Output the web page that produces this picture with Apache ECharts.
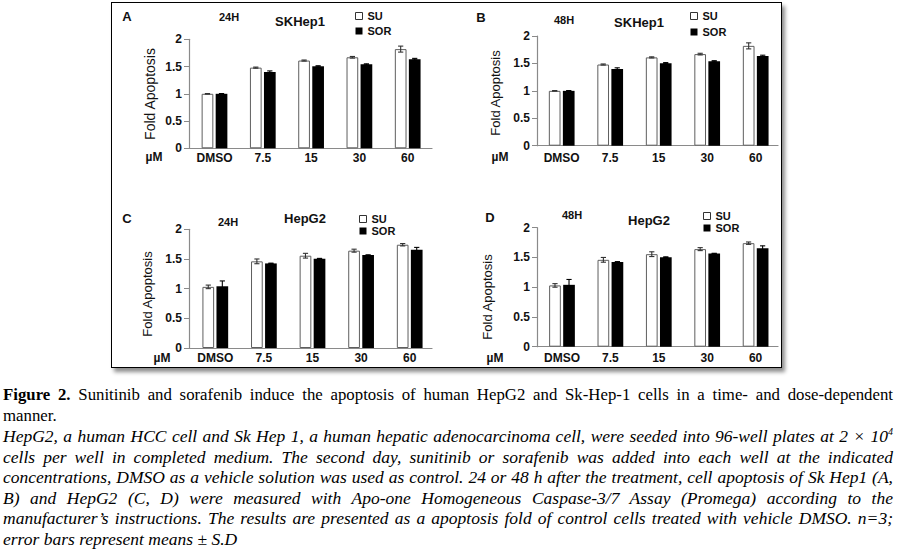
<!DOCTYPE html>
<html>
<head>
<meta charset="utf-8">
<script src="https://cdn.jsdelivr.net/npm/echarts@6.0.0/dist/echarts.min.js"></script>
<style>
  html, body { margin: 0; padding: 0; background: #fff; }
  body { width: 901px; height: 549px; overflow: hidden; position: relative; }
  #frame { position: absolute; left: 111px; top: 2px; width: 669px; height: 364px; border: 1.5px solid #000; background: #fff; box-shadow: 3px 4px 4px rgba(0,0,0,0.45); }
  #chart { position: absolute; left: 0; top: 0; width: 901px; height: 380px; }
  #caption { position: absolute; left: 3px; top: 385px; width: 890px; font-family: "Liberation Serif", "Times New Roman", serif; font-size: 16.8px; line-height: 20.5px; color: #000; }
  #caption div { white-space: nowrap; }
  #caption .j { text-align: justify; text-align-last: justify; }
  #caption .it { font-style: italic; font-size: 17.5px; }
  sup { font-size: 10px; line-height: 0; vertical-align: 7px; }
</style>
</head>
<body>
<div id="frame"></div>
<div id="chart"></div>
<div id="caption">
  <div class="j"><b>Figure 2.</b> Sunitinib and sorafenib induce the apoptosis of human HepG2 and Sk-Hep-1 cells in a time- and dose-dependent</div>
  <div>manner.</div>
  <div class="j it">HepG2, a human HCC cell and Sk Hep 1, a human hepatic adenocarcinoma cell, were seeded into 96-well plates at 2 × 10<sup>4</sup></div>
  <div class="j it">cells per well in completed medium. The second day, sunitinib or sorafenib was added into each well at the indicated</div>
  <div class="j it">concentrations, DMSO as a vehicle solution was used as control. 24 or 48 h after the treatment, cell apoptosis of Sk Hep1 (A,</div>
  <div class="j it">B) and HepG2 (C, D) were measured with Apo-one Homogeneous Caspase-3/7 Assay (Promega) according to the</div>
  <div class="j it">manufacturer’s instructions. The results are presented as a apoptosis fold of control cells treated with vehicle DMSO. n=3;</div>
  <div class="it">error bars represent means ± S.D</div>
</div>
<script>
const categories = ['DMSO', '7.5', '15', '30', '60'];

// SKHep1, 24H
const sk24SU = [1.00, 1.48, 1.61, 1.67, 1.82];
const sk24SUErr = [0.005, 0.01, 0.01, 0.015, 0.055];
const sk24SOR = [1.00, 1.40, 1.505, 1.54, 1.635];
const sk24SORErr = [0.005, 0.02, 0.01, 0.01, 0.015];
// SKHep1, 48H
const sk48SU = [1.00, 1.48, 1.61, 1.67, 1.82];
const sk48SUErr = [0.005, 0.01, 0.01, 0.015, 0.055];
const sk48SOR = [1.00, 1.40, 1.505, 1.54, 1.635];
const sk48SORErr = [0.005, 0.02, 0.01, 0.01, 0.015];
// HepG2, 24H
const hep24SU = [1.03, 1.46, 1.555, 1.64, 1.74];
const hep24SUErr = [0.03, 0.04, 0.04, 0.025, 0.02];
const hep24SOR = [1.04, 1.425, 1.505, 1.565, 1.655];
const hep24SORErr = [0.09, 0.005, 0.005, 0.005, 0.04];
// HepG2, 48H
const hep48SU = [1.03, 1.46, 1.555, 1.64, 1.74];
const hep48SUErr = [0.03, 0.04, 0.04, 0.025, 0.02];
const hep48SOR = [1.04, 1.425, 1.505, 1.565, 1.655];
const hep48SORErr = [0.09, 0.005, 0.005, 0.005, 0.04];

const FONT = '"Liberation Sans", Arial, sans-serif';
const BAR_W = 11.7;
const BAR_GAP = 0.2;
const AXIS_GRAY = '#8a8a8a';

// layout of each panel (pixels)
const panels = [
  { tag: 'A', time: '24H', cell: 'SKHep1', su: sk24SU, suErr: sk24SUErr, sor: sk24SOR, sorErr: sk24SORErr,
    axisX: 189, c0: 214.5, step: 48.3, end: 432, top: 39.3, bottom: 148.3, lblMargin: 4,
    tagPos: [127, 16], timePos: [229, 17], cellPos: [300, 21], legPos: [355, 10], legGap: 3,
    umPos: [154, 157], yNamePos: [150, 94], yNameSize: 14 },
  { tag: 'B', time: '48H', cell: 'SKHep1', su: sk48SU, suErr: sk48SUErr, sor: sk48SOR, sorErr: sk48SORErr,
    axisX: 537, c0: 561.7, step: 48.5, end: 778, top: 36, bottom: 145.7, lblMargin: 6,
    tagPos: [481, 17], timePos: [564, 20], cellPos: [639, 22], legPos: [690, 10], legGap: 4,
    umPos: [500, 157], yNamePos: [495, 93], yNameSize: 13 },
  { tag: 'C', time: '24H', cell: 'HepG2', su: hep24SU, suErr: hep24SUErr, sor: hep24SOR, sorErr: hep24SORErr,
    axisX: 189, c0: 215.3, step: 48.6, end: 432, top: 229.3, bottom: 348, lblMargin: 4,
    tagPos: [127, 218], timePos: [228, 222], cellPos: [305, 218], legPos: [359, 213], legGap: 0,
    umPos: [162, 358], yNamePos: [147, 294], yNameSize: 13 },
  { tag: 'D', time: '48H', cell: 'HepG2', su: hep48SU, suErr: hep48SUErr, sor: hep48SOR, sorErr: hep48SORErr,
    axisX: 537, c0: 562, step: 48.4, end: 778, top: 227.7, bottom: 346.7, lblMargin: 5,
    tagPos: [490, 217], timePos: [572, 215], cellPos: [649, 220], legPos: [703, 210], legGap: 0,
    umPos: [495, 358], yNamePos: [487, 297], yNameSize: 13 }
];

function errorSeries(i, name, values, errs, offset, color) {
  return {
    type: 'custom', name: name, xAxisIndex: i, yAxisIndex: i, z: 5, silent: true,
    data: values.map((v, k) => [k, v, errs[k]]),
    renderItem: (params, api) => {
      const x = api.value(0), m = api.value(1), e = api.value(2);
      const hi = api.coord([x, m + e]);
      const lo = api.coord([x, m - e]);
      const cx = hi[0] + offset;
      const hw = 2.6;
      const st = { stroke: color, lineWidth: 1.1 };
      return {
        type: 'group', children: [
          { type: 'line', shape: { x1: cx, y1: hi[1], x2: cx, y2: lo[1] }, style: st },
          { type: 'line', shape: { x1: cx - hw, y1: hi[1], x2: cx + hw, y2: hi[1] }, style: st },
          { type: 'line', shape: { x1: cx - hw, y1: lo[1], x2: cx + hw, y2: lo[1] }, style: st }
        ]
      };
    }
  };
}

const grids = [], xAxes = [], yAxes = [], series = [], legends = [], texts = [];
const off = (BAR_W * (1 + BAR_GAP)) / 2;

panels.forEach((p, i) => {
  grids.push({ left: p.axisX, top: p.top, width: p.end - p.axisX, height: p.bottom - p.top });
  xAxes.push({
    gridIndex: i, type: 'value',
    min: -(p.c0 - p.axisX) / p.step, max: (p.end - p.c0) / p.step,
    axisLine: { show: true, lineStyle: { color: AXIS_GRAY, width: 1.2 } },
    axisTick: { show: false }, splitLine: { show: false },
    axisLabel: {
      customValues: [0, 1, 2, 3, 4], formatter: (v) => categories[Math.round(v)],
      color: '#111', fontWeight: 'bold', fontSize: 12, fontFamily: FONT, margin: p.lblMargin
    }
  });
  yAxes.push({
    gridIndex: i, type: 'value', min: 0, max: 2, interval: 0.5,
    axisLine: { show: true, onZero: false, lineStyle: { color: AXIS_GRAY, width: 1.2 } },
    axisTick: { show: true, length: 5, lineStyle: { color: AXIS_GRAY } },
    splitLine: { show: false },
    axisLabel: { color: '#111', fontWeight: 'bold', fontSize: 12, fontFamily: FONT, margin: 7 }
  });
  series.push({
    type: 'bar', name: 'SU', xAxisIndex: i, yAxisIndex: i, barWidth: BAR_W, barGap: (BAR_GAP * 100) + '%',
    itemStyle: { color: '#fff', borderColor: '#5e5e5e', borderWidth: 1 },
    data: p.su.map((v, k) => [k, v])
  });
  series.push({
    type: 'bar', name: 'SOR', xAxisIndex: i, yAxisIndex: i, barWidth: BAR_W, barGap: (BAR_GAP * 100) + '%',
    itemStyle: { color: '#000' },
    data: p.sor.map((v, k) => [k, v])
  });
  series.push(errorSeries(i, 'SU sd', p.su, p.suErr, -off, '#333'));
  series.push(errorSeries(i, 'SOR sd', p.sor, p.sorErr, off, '#000'));
  legends.push({
    orient: 'vertical', left: p.legPos[0], top: p.legPos[1], padding: 0,
    itemWidth: 7, itemHeight: 7, itemGap: p.legGap, icon: 'rect', selectedMode: false,
    textStyle: { fontSize: 11, fontWeight: 'bold', color: '#111', fontFamily: FONT, lineHeight: 12 },
    data: [
      { name: 'SU', itemStyle: { color: '#fff', borderColor: '#333', borderWidth: 1 } },
      { name: 'SOR', itemStyle: { color: '#000', borderWidth: 0 } }
    ]
  });
  const t = (str, pos, size, extra) => texts.push(Object.assign({
    type: 'text', x: pos[0], y: pos[1],
    style: { text: str, fontSize: size, fontWeight: 'bold', fontFamily: FONT, fill: '#111', align: 'center', verticalAlign: 'middle' }
  }, extra || {}));
  t(p.tag, p.tagPos, 13);
  t(p.time, p.timePos, 11);
  t(p.cell, p.cellPos, 13);
  t('µM', p.umPos, 12);
  texts.push({
    type: 'text', x: p.yNamePos[0], y: p.yNamePos[1], rotation: Math.PI / 2,
    style: { text: 'Fold Apoptosis', fontSize: p.yNameSize, fontFamily: FONT, fill: '#111', align: 'center', verticalAlign: 'middle' }
  });
});

const chart = echarts.init(document.getElementById('chart'), null, { renderer: 'svg' });
chart.setOption({
  animation: false,
  grid: grids,
  xAxis: xAxes,
  yAxis: yAxes,
  legend: legends,
  series: series,
  graphic: { elements: texts }
});
</script>
</body>
</html>
